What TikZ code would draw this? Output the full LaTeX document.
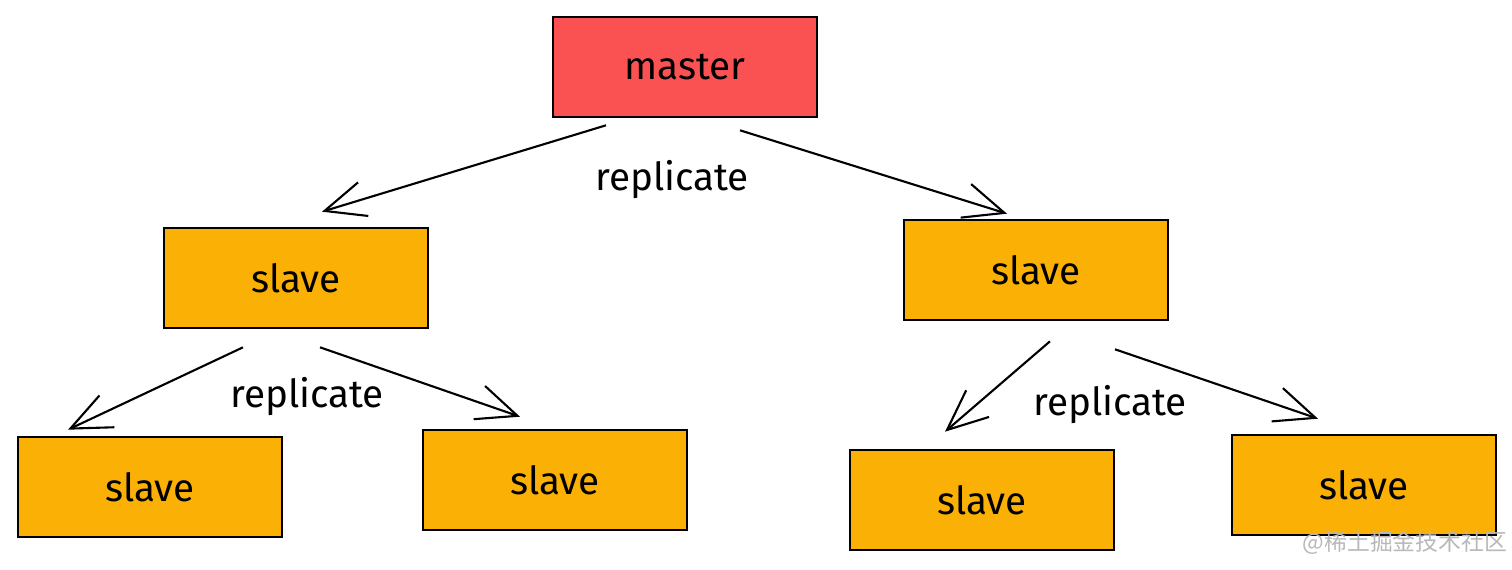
\documentclass[tikz,border=0pt]{standalone}
\usepackage{xcolor}
\usepackage{tikz}
\usepackage{fontspec}
\setmainfont{Fira Sans}
\newfontfamily\cjkfont{Noto Sans CJK SC}
\usetikzlibrary{arrows.meta, positioning, calc}
\definecolor{masterred}{HTML}{FA5252}
\definecolor{slaveorange}{HTML}{FAB005}
\definecolor{markgray}{HTML}{B8B8B8}

\begin{document}
\begin{tikzpicture}[
  x=0.02cm, y=-0.02cm,
  every node/.style={font=\fontsize{22}{26}\selectfont},
  box/.style={rectangle, draw=black, line width=1.5pt, minimum width=5.28cm, minimum height=2.0cm, text centered},
  masterbox/.style={box, fill=masterred},
  slavebox/.style={box, fill=slaveorange},
  link/.style={line width=1.2pt, -{Straight Barb[length=23pt, width=20pt, line width=1.2pt]}}
]
  \useasboundingbox (0,0) rectangle (1512,569);

  % boxes
  \node[masterbox] (master) at (685,67) {master};
  \node[slavebox] (left) at (296,278) {slave};
  \node[slavebox] (right) at (1036,270) {slave};
  \node[slavebox] (leftleft) at (150,487) {slave};
  \node[slavebox] (leftright) at (555,480) {slave};
  \node[slavebox] (rightleft) at (982,500) {slave};
  \node[slavebox] (rightright) at (1364,485) {slave};

  % replication arrows
  \draw[link] ($(master.south)+(-79,7)$) -- ($(left.north)+(26,-15)$);
  \draw[link] ($(master.south)+(55,12)$) -- ($(right.north)+(-29,-5)$);
  \draw[link] ($(left.south)+(-53,18)$) -- ($(leftleft.north)+(-82,-6)$);
  \draw[link] ($(left.south)+(24,18)$) -- ($(leftright.north)+(-35,-12)$);
  \draw[link] ($(right.south)+(14,20)$) -- ($(rightleft.north)+(-37,-17)$);
  \draw[link] ($(right.south)+(79,28)$) -- ($(rightright.north)+(-46,-15)$);

  % labels
  \node (repa) at (672,180) {replicate};
  \node (repb) at (307,397) {replicate};
  \node (repc) at (1110,405) {replicate};

  % watermark
  \node[text=markgray, font=\cjkfont\fontsize{13}{15}\selectfont] (mark) at (1405,543) {@稀土掘金技术社区};
\end{tikzpicture}
\end{document}
